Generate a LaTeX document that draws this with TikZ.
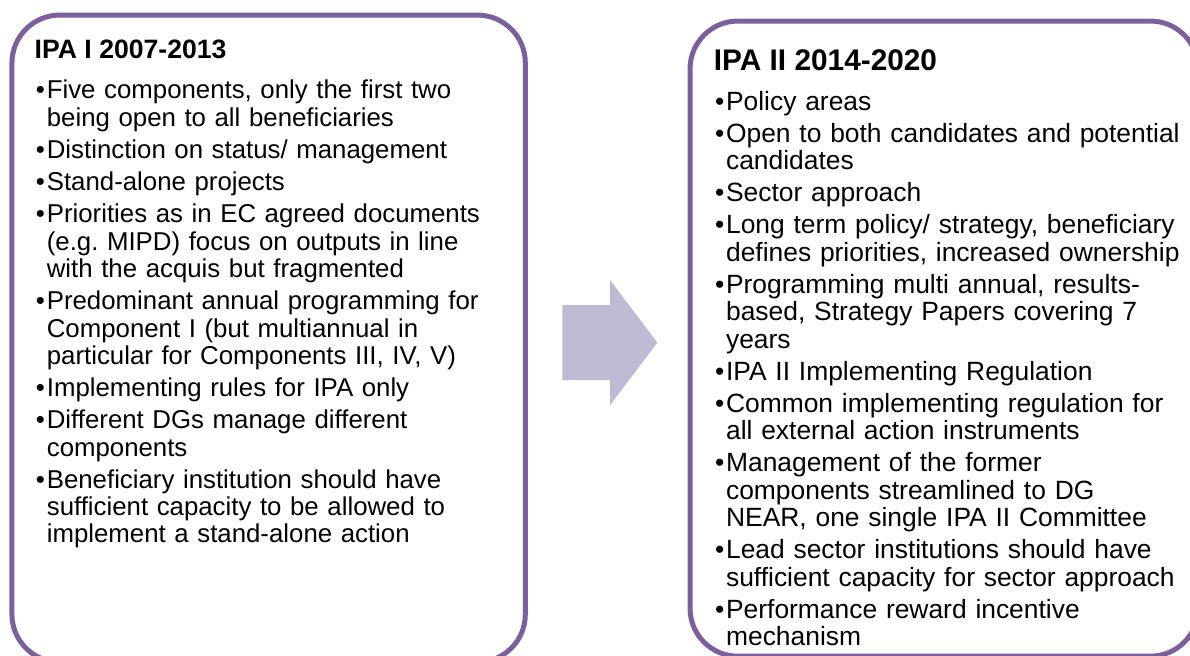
\documentclass[tikz,border=0pt]{standalone}
\usepackage{fontspec}
\setmainfont{Liberation Sans}
\usetikzlibrary{positioning}
\definecolor{ipapurple}{RGB}{124,96,158}
\definecolor{ipalilac}{RGB}{191,185,211}
\frenchspacing
% one bullet paragraph, continuation lines hang under the text
\newcommand\ipaitem{\par\hangindent=5.5pt\hangafter=1\noindent
  \makebox[5.5pt][l]{\textbullet}}
\tikzset{
  panel/.style ={draw=ipapurple, rounded corners=0.84cm, line width=2.5pt,
                 inner sep=0pt, outer sep=0pt},
  hdr/.style   ={inner sep=0pt, outer sep=0pt, font=\bfseries},
  blist/.style ={inner sep=0pt, outer sep=0pt, text width=240pt,
                 execute at begin node={\parskip=2.35pt}},
}
\begin{document}
\begin{tikzpicture}
  \useasboundingbox (0,0) rectangle (20.91,-11.51);
  \clip (0,0) rectangle (20.91,-11.51);
  % the two periods
  \node[panel, minimum width=9.02cm, minimum height=11.37cm]
    (oldbox) at (4.72,-5.95) {};
  \node[panel, minimum width=8.93cm, minimum height=11.16cm]
    (newbox) at (16.59,-5.95) {};
  \node[hdr, font=\bfseries\fontsize{13.3pt}{15pt}\selectfont,
    below right=0.44cm and 0.40cm of oldbox.north west]
    (oldtitle) {IPA I 2007-2013};
  \node[blist, font=\fontsize{12.9pt}{13.7pt}\selectfont,
    below right=0.91cm and 0.42cm of oldbox.north west]
    (oldlist) {%
    \ipaitem Five components, only the first two\newline
      being open to all beneficiaries
    \ipaitem Distinction on status/ management
    \ipaitem Stand-alone projects
    \ipaitem Priorities as in EC agreed documents\newline
      (e.g. MIPD) focus on outputs in line\newline
      with the acquis but fragmented
    \ipaitem Predominant annual programming for\newline
      Component I (but multiannual in\newline
      particular for Components III, IV, V)
    \ipaitem Implementing rules for IPA only
    \ipaitem Different DGs manage different\newline
      components
    \ipaitem Beneficiary institution should have\newline
      sufficient capacity to be allowed to\newline
      implement a stand-alone action\par};
  \node[hdr, font=\bfseries\fontsize{14.9pt}{16pt}\selectfont,
    below right=0.50cm and 0.42cm of newbox.north west]
    (newtitle) {IPA II 2014-2020};
  \node[blist, font=\fontsize{13.2pt}{13.7pt}\selectfont,
    below right=1.00cm and 0.44cm of newbox.north west]
    (newlist) {%
    \ipaitem Policy areas
    \ipaitem Open to both candidates and potential\newline
      candidates
    \ipaitem Sector approach
    \ipaitem Long term policy/ strategy, beneficiary\newline
      defines priorities, increased ownership
    \ipaitem Programming multi annual, results-\newline
      based, Strategy Papers covering 7\newline
      years
    \ipaitem IPA II Implementing Regulation
    \ipaitem Common implementing regulation for\newline
      all external action instruments
    \ipaitem Management of the former\newline
      components streamlined to DG\newline
      NEAR, one single IPA II Committee
    \ipaitem Lead sector institutions should have\newline
      sufficient capacity for sector approach
    \ipaitem Performance reward incentive\newline
      mechanism\par};
  % block arrow between the panels
  \fill[ipalilac] (9.88,-5.36) -- (10.72,-5.36) -- (10.72,-4.92)
    -- (11.55,-6.02) -- (10.72,-7.12) -- (10.72,-6.68)
    -- (9.88,-6.68) -- cycle;
\end{tikzpicture}
\end{document}
